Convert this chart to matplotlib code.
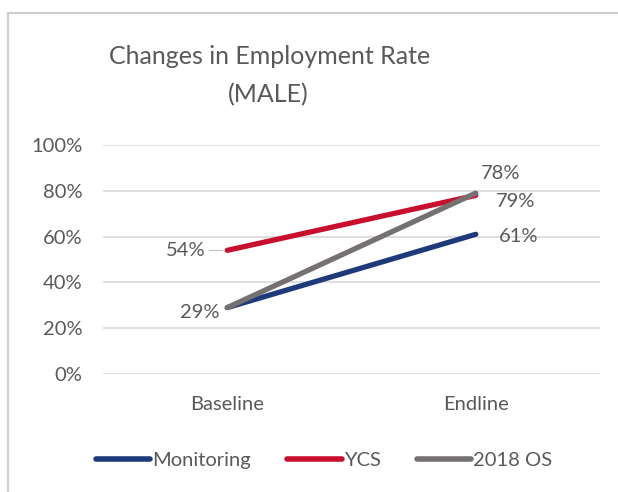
import matplotlib.pyplot as plt
from matplotlib.lines import Line2D
from matplotlib.patches import Rectangle

categories = ['Baseline', 'Endline']
monitoring = [0.29, 0.61]
ycs = [0.54, 0.78]
os2018 = [0.29, 0.79]
series_names = ['Monitoring', 'YCS', '2018 OS']
yticks = [0, 0.2, 0.4, 0.6, 0.8, 1.0]
ytick_labels = ['0%', '20%', '40%', '60%', '80%', '100%']

plt.rcParams['font.family'] = ['Lato', 'DejaVu Sans']
txt = '#595959'
c_mon = '#1F3A7A'
c_ycs = '#C8102E'
c_os = '#767171'
fs = 14.5

fig = plt.figure(figsize=(6.18, 4.92), dpi=100)
fig.patch.set_facecolor('white')

# chart border (cropped on right and bottom)
fig.patches.append(Rectangle((8 / 618, -0.1), 1.2, 1 - 13 / 492 + 0.1,
                             transform=fig.transFigure, fill=False,
                             edgecolor='#CFCFCF', linewidth=1.6))

ax = fig.add_axes([103 / 618, 1 - 374 / 492, 497 / 618, 229 / 492])
x = [0, 1]
ax.plot(x, monitoring, color=c_mon, lw=3.8, solid_capstyle='round', zorder=3)
ax.plot(x, ycs, color=c_ycs, lw=3.8, solid_capstyle='round', zorder=3)
ax.plot(x, os2018, color=c_os, lw=3.8, solid_capstyle='round', zorder=4)

ax.set_xlim(-0.5, 1.5)
ax.set_ylim(0, 1)
ax.set_yticks(yticks)
ax.set_yticklabels(ytick_labels)
ax.set_xticks(x)
ax.set_xticklabels(categories)
ax.tick_params(axis='y', length=0, pad=15, labelsize=fs, labelcolor=txt)
ax.tick_params(axis='x', length=0, pad=16, labelsize=fs, labelcolor=txt)
ax.grid(axis='y', color='#D9D9D9', lw=1.2)
ax.set_axisbelow(True)
for s in ax.spines.values():
    s.set_visible(False)

# data labels
def lab(xv, yv, s, dx, dy, ha):
    ax.annotate(s, (xv, yv), xytext=(dx, dy), textcoords='offset pixels',
                ha=ha, va='center', fontsize=fs, color=txt)

lab(0, ycs[0], '{:.0%}'.format(ycs[0]), -22, 0, 'right')
ax.plot([-0.075, -0.02], [ycs[0], ycs[0]], color='#BFBFBF', lw=0.8)
lab(0, monitoring[0], '{:.0%}'.format(monitoring[0]), -8, -5, 'right')
lab(1, ycs[1], '{:.0%}'.format(ycs[1]), 5, 22, 'left')
lab(1, os2018[1], '{:.0%}'.format(os2018[1]), 20, -8, 'left')
lab(1, monitoring[1], '{:.0%}'.format(monitoring[1]), 23, -2, 'left')

fig.text(270 / 618, 1 - 57 / 492, 'Changes in Employment Rate', ha='center',
         va='center', fontsize=18, color=txt)
fig.text(268 / 618, 1 - 95 / 492, '(MALE)', ha='center', va='center',
         fontsize=18, color=txt)

handles = [Line2D([], [], color=c, lw=4, solid_capstyle='round')
           for c in [c_mon, c_ycs, c_os]]
fig.legend(handles, series_names, loc='center', bbox_to_anchor=(324 / 618, 1 - 460 / 492),
           ncol=3, frameon=False, fontsize=fs, labelcolor=txt,
           handlelength=2.7, handletextpad=0.1, columnspacing=1.8)

fig.savefig('out.png', dpi=100)
